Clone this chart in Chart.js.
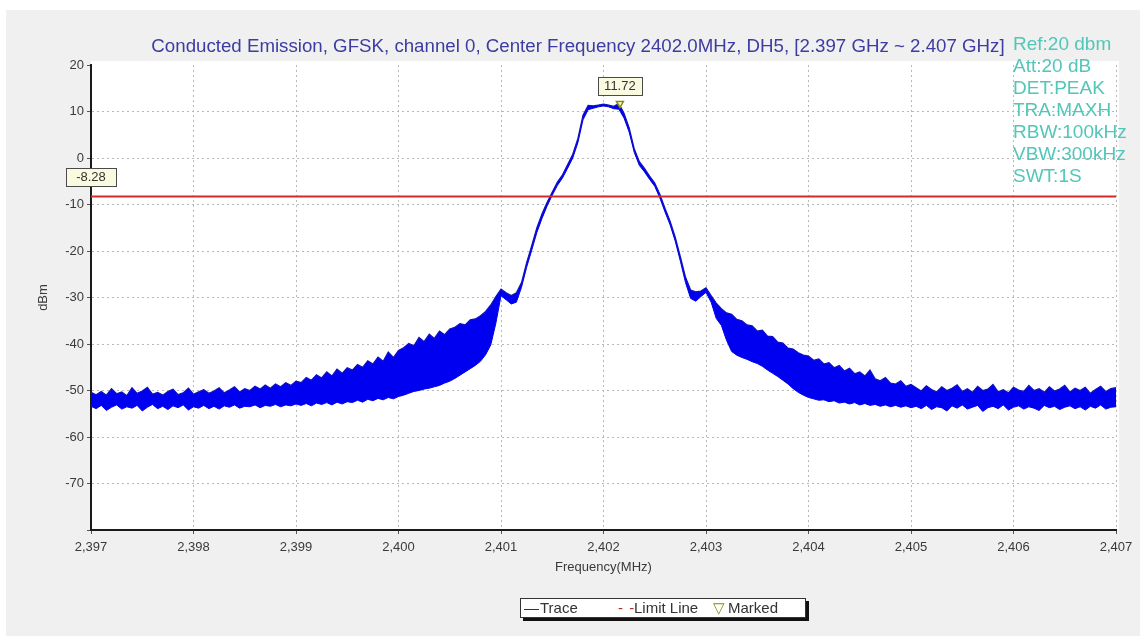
<!DOCTYPE html>
<html>
<head>
<meta charset="utf-8">
<script src="https://cdn.jsdelivr.net/npm/chart.js@4.4.1/dist/chart.umd.min.js"></script>
<style>
  body { margin: 0; background: #ffffff; font-family: 'Liberation Sans', Arial, sans-serif; }
  #panel { position: absolute; left: 6px; top: 10px; width: 1134px; height: 626px; background: #f0f0f0; }
  #chart { position: absolute; left: 0; top: 0; }
  #title { position: absolute; left: 0; width: 1156px; top: 35px; text-align: center; font-size: 18.7px; color: #3c3ca2; white-space: nowrap; }
  #info { position: absolute; left: 1013px; top: 33px; font-size: 19px; line-height: 22px; color: #52c6b8; }
  #legend { position: absolute; left: 520px; top: 598px; width: 284px; height: 18px; background: #fff; border: 1px solid #333; box-shadow: 3px 3px 0 #111; font-size: 15px; color: #333; }
  #legend span { position: absolute; top: 0; line-height: 18px; }
</style>
</head>
<body>
<div id="panel"></div>
<canvas id="chart" width="1144" height="643"></canvas>
<div id="title">Conducted Emission, GFSK, channel 0, Center Frequency 2402.0MHz, DH5, [2.397 GHz ~ 2.407 GHz]</div>
<div id="info">Ref:20 dbm<br>Att:20 dB<br>DET:PEAK<br>TRA:MAXH<br>RBW:100kHz<br>VBW:300kHz<br>SWT:1S</div>
<div id="legend">
  <span style="left:3px">&mdash;</span><span style="left:19px">Trace</span>
  <span style="left:97px;color:#a83030;letter-spacing:1px">- -</span><span style="left:113px">Limit Line</span>
  <span style="left:192px;color:#8a8a00">&#9661;</span><span style="left:207px">Marked</span>
</div>
<script>
// sweep: 2397 - 2407 MHz, one sample every 0.05 MHz (201 samples)
const sweepStart = 2397;
const sweepStep = 0.05;

// max-hold trace, upper edge of the drawn band (dBm)
const traceHigh = [
  -50.4, -50.9, -50.2, -51.0, -49.6, -50.7, -50.3, -51.1, -49.4, -50.6,
  -50.1, -49.3, -50.8, -50.4, -51.0, -50.2, -49.7, -50.9, -50.5, -49.5,
  -50.8, -50.3, -49.8, -50.6, -50.1, -49.4, -50.5, -49.9, -49.2, -50.3,
  -49.6, -50.0, -49.1, -49.7, -48.8, -49.5, -48.6, -49.2, -48.3, -48.9,
  -48.0, -48.3, -47.2, -47.8, -46.6, -47.3, -46.0, -46.9, -45.4, -46.3,
  -45.1, -45.6, -44.4, -45.0, -43.6, -44.3, -42.8, -43.7, -41.7, -42.9,
  -41.4, -40.8, -39.9, -40.4, -38.6, -39.5, -37.9, -38.8, -37.2, -38.0,
  -36.8, -36.4, -35.6, -35.9, -34.8, -34.6, -33.9, -33.0, -31.6, -29.8,
  -28.2, -29.0, -29.6, -29.0, -26.8, -22.5, -18.8, -15.0, -12.0, -9.5,
  -7.3, -5.2, -3.6, -1.4, 0.8, 4.2, 9.2, 11.3, 11.2, 11.4,
  11.6, 11.4, 11.1, 11.7, 9.6, 6.5, 2.0, -0.8, -2.2, -3.9,
  -5.4, -7.8, -10.8, -13.6, -17.0, -21.2, -25.6, -28.4, -28.8, -28.6,
  -27.9, -29.6, -31.2, -32.4, -33.3, -33.6, -34.7, -35.0, -35.9, -36.1,
  -37.2, -37.0, -38.3, -38.4, -39.6, -39.8, -40.9, -41.1, -41.9, -42.4,
  -42.6, -43.5, -43.2, -44.3, -44.0, -45.1, -44.6, -45.8, -45.2, -46.4,
  -46.0, -46.9, -45.6, -47.5, -47.9, -47.2, -48.4, -48.6, -47.9, -49.1,
  -48.7, -49.4, -50.1, -49.0, -49.8, -50.3, -49.2, -50.0, -49.5, -48.8,
  -50.2, -49.6, -50.4, -49.1, -50.0, -49.7, -48.7, -50.3, -49.8, -50.5,
  -49.3, -49.9, -50.2, -48.9, -50.0, -49.6, -50.4, -49.2, -50.1, -49.7,
  -48.9, -50.3, -49.5, -50.0, -49.3, -50.6, -49.8, -49.1, -50.2, -49.6,
  -49.4
];

// lower edge of the band (dBm)
const traceLow = [
  -53.4, -53.9, -53.2, -54.3, -53.6, -53.1, -54.0, -53.5, -53.8, -53.2,
  -54.4, -53.6, -53.0, -53.9, -53.4, -54.1, -53.3, -53.7, -53.1, -54.2,
  -53.5, -53.8, -53.2, -53.9, -53.4, -54.0, -53.3, -53.6, -53.1, -53.8,
  -53.4, -53.5, -53.1, -53.7, -53.2, -53.4, -53.0, -53.5, -53.1, -53.3,
  -52.9, -53.2, -52.8, -53.3, -52.7, -53.0, -52.6, -53.1, -52.5, -52.9,
  -52.4, -52.6, -52.1, -52.5, -51.9, -52.2, -51.7, -52.0, -51.5, -51.8,
  -51.3, -51.0, -50.6, -50.2, -50.0, -49.7, -49.5, -49.2, -48.9, -48.4,
  -48.0, -47.4, -46.7, -46.0, -45.3, -44.6, -43.7, -42.3, -40.2, -35.5,
  -29.6, -30.5, -31.4, -31.0, -27.8, -23.5, -19.8, -16.0, -13.0, -10.3,
  -8.0, -5.9, -4.3, -2.2, 0.0, 3.3, 8.2, 10.4, 10.7, 11.0,
  11.2, 11.0, 10.6, 10.5, 8.6, 5.6, 1.2, -1.6, -3.0, -4.6,
  -6.1, -8.6, -11.6, -14.4, -17.9, -22.2, -26.8, -30.2, -30.8, -29.8,
  -28.9, -31.0, -34.5, -36.0, -39.2, -41.6, -42.4, -42.9, -43.3, -43.8,
  -44.2, -44.8, -45.6, -46.3, -47.0, -47.8, -48.6, -49.6, -50.4, -51.0,
  -51.5, -51.8, -52.1, -52.0, -52.4, -52.2, -52.7, -52.5, -52.9, -52.6,
  -53.1, -52.8, -53.2, -53.0, -53.4, -53.1, -53.5, -53.2, -53.6, -53.3,
  -53.7, -53.4, -53.9, -53.2, -54.1, -53.5, -53.7, -54.4, -53.3, -53.8,
  -53.1, -54.0, -53.6, -53.2, -54.5, -53.7, -53.4, -53.9, -53.1, -54.2,
  -53.6, -53.3, -54.0, -53.5, -53.8, -54.3, -53.2, -53.7, -53.4, -54.1,
  -53.6, -53.3, -53.9, -53.5, -54.2, -53.4, -53.8, -53.1, -54.0, -53.6,
  -53.5
];

const limitLevel = -8.28;
const markerFreq = 2402.16;
const markerLevel = 11.72;

const freqTicks = [2397, 2398, 2399, 2400, 2401, 2402, 2403, 2404, 2405, 2406, 2407];
const levelTicks = [20, 10, 0, -10, -20, -30, -40, -50, -60, -70, -80];

const fontFamily = "'Liberation Sans', Arial, sans-serif";
const traceColor = '#0000f0';
const gridColor = '#b9b9b9';

function toPoints(values) {
  return values.map((v, i) => ({ x: sweepStart + i * sweepStep, y: v }));
}

function drawTag(ctx, text, cx, cy, w) {
  const h = 18;
  const left = Math.round(cx - w / 2) + 0.5;
  const top = Math.round(cy - h / 2) + 0.5;
  ctx.save();
  ctx.fillStyle = '#fafae0';
  ctx.fillRect(left, top, w, h);
  ctx.strokeStyle = '#4a4a4a';
  ctx.lineWidth = 1;
  ctx.strokeRect(left, top, w, h);
  ctx.fillStyle = '#333';
  ctx.font = '13px ' + fontFamily;
  ctx.textAlign = 'center';
  ctx.textBaseline = 'middle';
  ctx.fillText(text, cx, cy + 1);
  ctx.restore();
}

const plotBackground = {
  id: 'plotBackground',
  beforeDraw(chart) {
    const { ctx, chartArea: a } = chart;
    ctx.save();
    ctx.fillStyle = '#ffffff';
    ctx.fillRect(a.left, a.top - 4, a.right - a.left + 3, a.bottom - a.top + 4);
    ctx.restore();
  },
};

const valueTags = {
  id: 'valueTags',
  afterDraw(chart) {
    const { ctx, scales: { x, y } } = chart;
    drawTag(ctx, limitLevel.toFixed(2), x.getPixelForValue(sweepStart), y.getPixelForValue(limitLevel) - 20, 50);
    drawTag(ctx, markerLevel.toFixed(2), x.getPixelForValue(markerFreq), y.getPixelForValue(markerLevel) - 18, 44);
  },
};

Chart.defaults.font.family = fontFamily;

new Chart(document.getElementById('chart').getContext('2d'), {
  type: 'line',
  data: {
    datasets: [
      {
        label: 'Trace low',
        data: toPoints(traceLow),
        borderColor: traceColor,
        borderWidth: 1,
        pointRadius: 0,
        fill: false,
        order: 3,
      },
      {
        label: 'Trace',
        data: toPoints(traceHigh),
        borderColor: '#1010c0',
        backgroundColor: traceColor,
        borderWidth: 1.2,
        pointRadius: 0,
        fill: '-1',
        order: 2,
      },
      {
        label: 'Limit Line',
        data: [{ x: freqTicks[0], y: limitLevel }, { x: freqTicks[freqTicks.length - 1], y: limitLevel }],
        borderColor: '#d42a2a',
        borderWidth: 2,
        pointRadius: 0,
        fill: false,
        order: 1,
      },
      {
        label: 'Marked',
        type: 'scatter',
        data: [{ x: markerFreq, y: markerLevel }],
        pointStyle: 'triangle',
        rotation: 180,
        pointRadius: 4,
        borderColor: '#8a8a00',
        borderWidth: 1.5,
        backgroundColor: 'rgba(255,255,210,0.8)',
        order: 0,
      },
    ],
  },
  options: {
    responsive: false,
    animation: false,
    events: [],
    layout: { padding: { left: 0, right: 28, top: 65, bottom: 61 } },
    plugins: {
      legend: { display: false },
      title: { display: false },
      tooltip: { enabled: false },
    },
    scales: {
      x: {
        type: 'linear',
        min: freqTicks[0],
        max: freqTicks[freqTicks.length - 1],
        afterFit: s => { s.height = 52; },
        afterBuildTicks: s => { s.ticks = freqTicks.map(v => ({ value: v })); },
        ticks: {
          color: '#3a3a3a',
          font: { size: 13 },
          padding: 6,
          maxRotation: 0,
          autoSkip: false,
          callback: v => v.toLocaleString('en-US'),
        },
        grid: { color: gridColor, lineWidth: 1, tickLength: 4, tickColor: '#555' },
        border: { color: '#1a1a1a', width: 2, dash: [2, 3] },
        title: { display: true, text: 'Frequency(MHz)', color: '#3a3a3a', font: { size: 13 }, padding: { top: 0, bottom: 7 } },
      },
      y: {
        min: levelTicks[levelTicks.length - 1],
        max: levelTicks[0],
        afterFit: s => { s.width = 91; },
        afterBuildTicks: s => { s.ticks = levelTicks.map(v => ({ value: v })); },
        ticks: {
          color: '#3a3a3a',
          font: { size: 13 },
          padding: 3,
          callback: v => (v === levelTicks[levelTicks.length - 1] ? '' : v),
        },
        grid: {
          color: c => (c.tick && c.tick.value === levelTicks[0] ? 'rgba(0,0,0,0)' : gridColor),
          lineWidth: 1,
          tickLength: 4,
          tickColor: '#555',
        },
        border: { color: '#1a1a1a', width: 2, dash: [2, 3] },
        title: { display: true, text: 'dBm', color: '#3a3a3a', font: { size: 13 }, padding: { top: 36, bottom: 0 } },
      },
    },
  },
  plugins: [plotBackground, valueTags],
});
</script>
</body>
</html>
